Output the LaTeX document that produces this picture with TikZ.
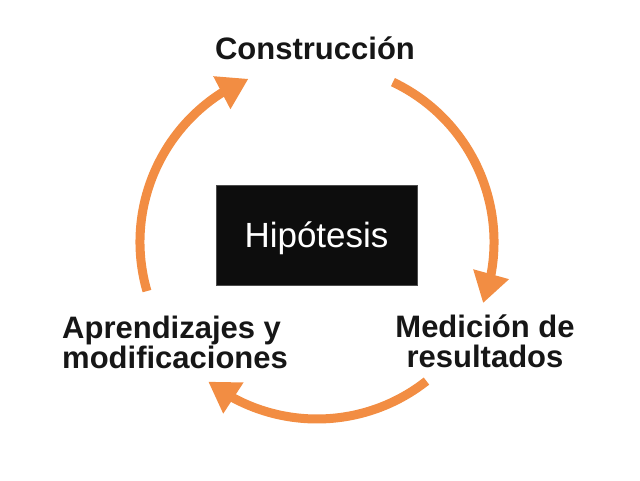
\documentclass[tikz,border=0pt]{standalone}
\usepackage{fontspec}
\setmainfont{Liberation Sans}
\usetikzlibrary{arrows.meta,bending,calc}
\definecolor{cycleorange}{RGB}{242,141,67}
\definecolor{boxblack}{RGB}{13,13,13}
\definecolor{labelblack}{RGB}{22,22,22}

\begin{document}
\begin{tikzpicture}[x=1pt,y=1pt,
  phase/.style={inner sep=0pt,text=labelblack,font=\fontsize{31}{30}\selectfont\bfseries},
  cyclearrow/.style={draw=cycleorange,line width=9pt,-{Triangle[length=30pt,width=35pt]}},
  hyp/.style={fill=boxblack,draw=black!70,line width=0.6pt,text=white,minimum width=201pt,
    minimum height=100pt,inner sep=0pt,text height=25.5pt,text depth=1.5pt,
    font=\fontsize{35}{40}\selectfont}]
\useasboundingbox (0,0) rectangle (640,480);
\coordinate (c) at (317,238);
\node [hyp] (h) at (316.5,245) {Hipótesis};
\node [phase,anchor=base] (k) at (315,420) {Construcción};
\node [phase,anchor=base,align=center] (m) at (485,113) {Medición de\\resultados};
\node [phase,anchor=base west,align=left] (a) at (62,112) {Aprendizajes y\\modificaciones};
\draw [cyclearrow] ($(c)+(64.6:177)$) arc [start angle=64.6,end angle=-20.2,radius=177pt];
\draw [cyclearrow] ($(c)+(-51.8:177)$) arc [start angle=-51.8,end angle=-127.9,radius=177pt];
\draw [cyclearrow] ($(c)+(196.1:177)$) arc [start angle=196.1,end angle=112.8,radius=177pt];
\end{tikzpicture}
\end{document}
